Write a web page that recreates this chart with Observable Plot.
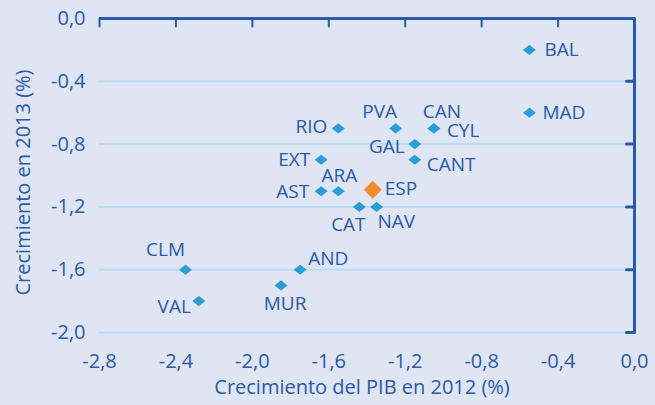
<!DOCTYPE html>
<html>
<head>
<meta charset="utf-8">
<script src="https://cdn.jsdelivr.net/npm/d3@7"></script>
<script src="https://cdn.jsdelivr.net/npm/@observablehq/plot@0.6"></script>
<style>
  html, body { margin: 0; padding: 0; background: #dfe5f2; }
  #chart { width: 655px; height: 405px; }
</style>
</head>
<body>
<div id="chart"></div>
<script>
// ---- data ----
const regions = ["BAL","MAD","CAN","CYL","PVA","RIO","GAL","CANT","ESP","EXT","AST","ARA","CAT","NAV","CLM","VAL","MUR","AND"];
const pib2012 = [-0.55,-0.55,-1.05,-1.05,-1.25,-1.55,-1.15,-1.15,-1.37,-1.64,-1.64,-1.55,-1.44,-1.35,-2.35,-2.28,-1.85,-1.75];
const crec2013 = [-0.2,-0.6,-0.7,-0.7,-0.7,-0.7,-0.8,-0.9,-1.09,-0.9,-1.1,-1.1,-1.2,-1.2,-1.6,-1.8,-1.7,-1.6];
const xTicks = [-2.8,-2.4,-2.0,-1.6,-1.2,-0.8,-0.4,0.0];
const yTicks = [0.0,-0.4,-0.8,-1.2,-1.6,-2.0];
const xTitle = "Crecimiento del PIB en 2012 (%)";
const yTitle = "Crecimiento en 2013 (%)";
const highlight = "ESP";

// ---- layout of labels (screen offsets) ----
const placement = {
  BAL:  ["start", 15, 0],
  MAD:  ["start", 13, 0],
  CAN:  ["middle", 8, -16],
  CYL:  ["start", 13, 3],
  PVA:  ["middle", -16, -16],
  RIO:  ["end", -11, -1],
  GAL:  ["end", -10, 3],
  CANT: ["start", 12, 5],
  ESP:  ["start", 12, -1],
  EXT:  ["end", -11, 0],
  AST:  ["end", -12, 1],
  ARA:  ["middle", 1, -15],
  CAT:  ["middle", -11, 18],
  NAV:  ["start", 1, 15],
  CLM:  ["middle", -20, -20],
  VAL:  ["end", -8, 6],
  MUR:  ["middle", 4, 19],
  AND:  ["start", 8, -11]
};

const data = regions.map((r, i) => ({region: r, x: pib2012[i], y: crec2013[i]}));

const textColor = "#2a5aa8";
const axisColor = "#2a5aa8";
const gridColor = "#b7dcf4";
const pointColor = "#2a9cd6";
const espColor = "#f68a2e";
const font = "'Open Sans', sans-serif";
const fmt = d => d.toFixed(1).replace(".", ",");

const flatDiamond = {
  draw(ctx, size) {
    const s = Math.sqrt(size / Math.PI);
    ctx.moveTo(0, -s * 0.78);
    ctx.lineTo(s, 0);
    ctx.lineTo(0, s * 0.78);
    ctx.lineTo(-s, 0);
    ctx.closePath();
  }
};
const diamond = {
  draw(ctx, size) {
    const s = Math.sqrt(size / Math.PI);
    ctx.moveTo(0, -s);
    ctx.lineTo(s, 0);
    ctx.lineTo(0, s);
    ctx.lineTo(-s, 0);
    ctx.closePath();
  }
};
const tickShape = {
  draw(ctx, l) { ctx.moveTo(0, 0); ctx.lineTo(0, -l); }
};

const labelMarks = data.map(d => {
  const [anchor, dx, dy] = placement[d.region];
  return Plot.text([d], {
    x: "x", y: "y", text: "region",
    textAnchor: anchor, dx, dy,
    fill: textColor, fontSize: 19, fontWeight: 500, fontFamily: font
  });
});

const chart = Plot.plot({
  width: 655,
  height: 405,
  marginLeft: 99,
  marginRight: 21,
  marginTop: 18,
  marginBottom: 73,
  x: {domain: [-2.8, 0]},
  y: {domain: [-2, 0]},
  style: {background: "#dfe5f2", fontFamily: font},
  marks: [
    Plot.ruleY(yTicks.filter(v => v !== 0), {y: d => d, stroke: gridColor, strokeWidth: 2}),
    Plot.axisY({ticks: yTicks, tickSize: 0, tickPadding: 14, tickFormat: fmt,
      fill: textColor, fontSize: 20, fontWeight: 500, fontFamily: font, label: null}),
    Plot.axisX({ticks: xTicks, tickSize: 0, tickPadding: 21, tickFormat: fmt,
      fill: textColor, fontSize: 20, fontWeight: 500, fontFamily: font, label: null}),
    Plot.ruleY([0], {stroke: axisColor, strokeWidth: 3}),
    Plot.ruleX([0], {stroke: axisColor, strokeWidth: 3}),
    Plot.vector(xTicks, {x: d => d, y: 0, length: 8, rotate: 180, anchor: "start",
      shape: tickShape, stroke: axisColor, strokeWidth: 2}),
    Plot.vector(yTicks, {x: 0, y: d => d, length: 8, rotate: 270, anchor: "start",
      shape: tickShape, stroke: axisColor, strokeWidth: 3}),
    Plot.dot(data.filter(d => d.region !== highlight), {x: "x", y: "y", symbol: flatDiamond, r: 6.5, fill: pointColor, stroke: "none"}),
    Plot.dot(data.filter(d => d.region === highlight), {x: "x", y: "y", symbol: diamond, r: 9, fill: espColor, stroke: "none"}),
    ...labelMarks,
    Plot.text([xTitle], {frameAnchor: "bottom", textAnchor: "middle", dy: 61, dx: -5, fill: textColor, fontSize: 20, fontWeight: 500, fontFamily: font}),
    Plot.text([yTitle], {frameAnchor: "left", textAnchor: "middle", rotate: -90, dx: -76, dy: 7, fill: textColor, fontSize: 20, fontWeight: 500, fontFamily: font})
  ]
});
document.getElementById("chart").appendChild(chart);
</script>
</body>
</html>
